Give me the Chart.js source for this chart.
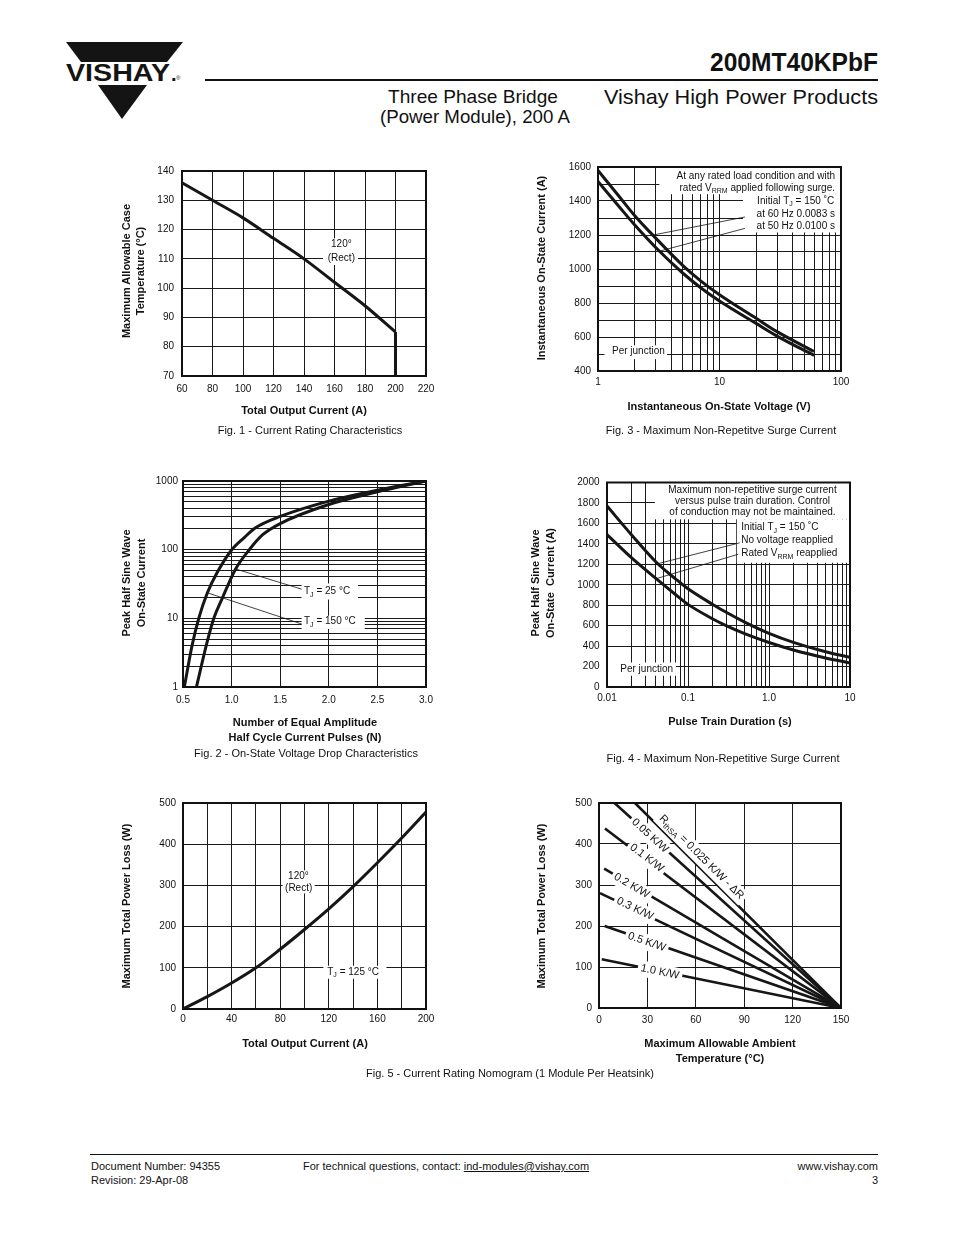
<!DOCTYPE html>
<html><head><meta charset="utf-8">
<script src="https://cdn.jsdelivr.net/npm/chart.js@4.4.0/dist/chart.umd.min.js"></script>
<style>
html,body{margin:0;padding:0;background:#fff;}
body{width:954px;height:1235px;position:relative;overflow:hidden;font-family:"Liberation Sans",Arial,Helvetica,sans-serif;color:#111;}
.t{position:absolute;white-space:nowrap;transform:translate(-50%,-50%);line-height:1;}
.v{position:absolute;white-space:nowrap;transform:translate(-50%,-50%) rotate(-90deg);line-height:1;}
.b{font-weight:bold;font-size:11px;}
.c{font-size:11px;}
.f{position:absolute;font-size:11px;line-height:13px;white-space:nowrap;}
canvas{position:absolute;}
</style></head><body>
<svg style="position:absolute;left:0;top:0" width="954" height="140">
 <polygon points="66,42 183,42 167,62 81,62" fill="#141414"/>
 <polygon points="98,85 147,85 122,119" fill="#141414"/>
 <text x="66" y="81" font-family="Liberation Sans Narrow, Liberation Sans, Arial" font-weight="bold" font-size="23" textLength="104" lengthAdjust="spacingAndGlyphs" fill="#141414">VISHAY</text>
 <text x="171" y="81" font-family="Liberation Sans, Arial" font-weight="bold" font-size="20" fill="#141414">.</text>
 <text x="176" y="80" font-family="Liberation Sans, Arial" font-size="6" fill="#141414">®</text>
 <line x1="205" y1="80" x2="878" y2="80" stroke="#111" stroke-width="2"/>
 <text x="878" y="71" text-anchor="end" font-family="Liberation Sans, Arial" font-weight="bold" font-size="26" textLength="168" lengthAdjust="spacingAndGlyphs" fill="#111">200MT40KPbF</text>
 <text x="878" y="104" text-anchor="end" font-family="Liberation Sans, Arial" font-size="21" textLength="274" lengthAdjust="spacingAndGlyphs" fill="#111">Vishay High Power Products</text>
 <text x="473" y="103" text-anchor="middle" font-family="Liberation Sans, Arial" font-size="19" textLength="170" lengthAdjust="spacingAndGlyphs" fill="#111">Three Phase Bridge</text>
 <text x="475" y="123" text-anchor="middle" font-family="Liberation Sans, Arial" font-size="19" textLength="190" lengthAdjust="spacingAndGlyphs" fill="#111">(Power Module), 200 A</text>
</svg>

<canvas id="c1"></canvas>
<canvas id="c3"></canvas>
<canvas id="c2"></canvas>
<canvas id="c4"></canvas>
<canvas id="c5"></canvas>
<canvas id="c6"></canvas>

<!-- Fig 1 texts -->
<div class="v b" style="left:126px;top:271px">Maximum Allowable Case</div>
<div class="v b" style="left:140px;top:271px">Temperature (°C)</div>
<div class="t b" style="left:304px;top:410px">Total Output Current (A)</div>
<div class="t c" style="left:310px;top:430px">Fig. 1 - Current Rating Characteristics</div>
<!-- Fig 3 texts -->
<div class="v b" style="left:541px;top:268px">Instantaneous On-State Current (A)</div>
<div class="t b" style="left:719px;top:406px">Instantaneous On-State Voltage (V)</div>
<div class="t c" style="left:721px;top:430px">Fig. 3 - Maximum Non-Repetitve Surge Current</div>
<!-- Fig 2 texts -->
<div class="v b" style="left:126px;top:583px">Peak Half Sine Wave</div>
<div class="v b" style="left:141px;top:583px">On-State Current</div>
<div class="t b" style="left:305px;top:722px">Number of Equal Amplitude</div>
<div class="t b" style="left:305px;top:737px">Half Cycle Current Pulses (N)</div>
<div class="t c" style="left:306px;top:753px">Fig. 2 - On-State Voltage Drop Characteristics</div>
<!-- Fig 4 texts -->
<div class="v b" style="left:535px;top:583px">Peak Half Sine Wave</div>
<div class="v b" style="left:550px;top:583px">On-State&nbsp; Current (A)</div>
<div class="t b" style="left:730px;top:721px">Pulse Train Duration (s)</div>
<div class="t c" style="left:723px;top:758px">Fig. 4 - Maximum Non-Repetitive Surge Current</div>
<!-- Fig 5 texts -->
<div class="v b" style="left:126px;top:906px">Maximum Total Power Loss (W)</div>
<div class="t b" style="left:305px;top:1043px">Total Output Current (A)</div>
<div class="v b" style="left:541px;top:906px">Maximum Total Power Loss (W)</div>
<div class="t b" style="left:720px;top:1043px">Maximum Allowable Ambient</div>
<div class="t b" style="left:720px;top:1058px">Temperature (°C)</div>
<div class="t c" style="left:510px;top:1073px">Fig. 5 - Current Rating Nomogram (1 Module Per Heatsink)</div>

<!-- footer -->
<div style="position:absolute;left:90px;top:1154px;width:788px;height:0;border-top:1.5px solid #111"></div>
<div class="f" style="left:91px;top:1160px">Document Number: 94355</div>
<div class="f" style="left:91px;top:1174px">Revision: 29-Apr-08</div>
<div class="f" style="left:303px;top:1160px">For technical questions, contact: <u>ind-modules@vishay.com</u></div>
<div class="f" style="right:76px;top:1160px;text-align:right">www.vishay.com</div>
<div class="f" style="right:76px;top:1174px;text-align:right">3</div>

<script>
// ---------------- DATA ----------------
// Fig. 1 - Current Rating Characteristics
const fig1Current = [60, 80, 100, 120, 140, 160, 180, 200];
const fig1CaseTemp = [136, 130, 124, 117, 110, 102, 94, 85];
const fig1DropCurrent = [200, 200];
const fig1DropTemp = [85, 70];
const fig1XTicks = [60, 220, 20];   // min, max, step
const fig1YTicks = [70, 140, 10];

// Fig. 3 - Maximum Non-Repetitive Surge Current (vs voltage axis)
const fig3Voltage = [1, 1.5, 2, 3, 5, 7, 10, 20, 30, 60];
const fig3Upper = [1580, 1425, 1315, 1180, 1020, 930, 848, 710, 630, 515];
const fig3Lower = [1515, 1365, 1260, 1125, 975, 890, 812, 680, 604, 492];
const fig3XLabels = [1, 10, 100];
const fig3YTicks = [400, 1600, 100];
const fig3YLabelStep = 200;

// Fig. 2 - On-State Voltage Drop Characteristics
const fig2Pulses150 = [0.514, 0.593, 0.662, 0.748, 0.85, 1.0, 1.13, 1.25, 1.5, 2.0, 2.5, 3.0];
const fig2Current150 = [1, 4, 10, 23, 46, 99, 150, 210, 305, 510, 735, 1000];
const fig2Pulses25 = [0.638, 0.748, 0.817, 0.9, 1.04, 1.18, 1.32, 1.5, 2.0, 2.5, 3.0];
const fig2Current25 = [1, 4.5, 10, 19, 52, 99, 165, 240, 455, 695, 1000];
const fig2XTicks = [0.5, 3.0, 0.5];
const fig2YLabels = [1, 10, 100, 1000];

// Fig. 4 - Maximum Non-Repetitive Surge Current (vs pulse train duration)
const fig4Duration = [0.01, 0.02, 0.0411, 0.07, 0.1, 0.2, 0.3, 0.5, 1, 2, 5, 10];
const fig4NoVoltage = [1770, 1490, 1215, 1058, 960, 810, 728, 635, 525, 437, 345, 290];
const fig4RatedV = [1490, 1265, 1055, 905, 808, 668, 598, 522, 435, 362, 284, 235];
const fig4XLabels = [0.01, 0.1, 1, 10];
const fig4XLabelText = ['0.01', '0.1', '1.0', '10'];
const fig4YTicks = [0, 2000, 200];

// Fig. 5 (left) - Power loss
const fig5Current = [0, 20, 40, 60, 80, 100, 120, 140, 160, 180, 200];
const fig5Loss = [0, 30, 63, 100, 145, 193, 243, 297, 355, 415, 478];
const fig5XTicks = [0, 200, 20];
const fig5XLabelStep = 40;
const fig5YTicks = [0, 500, 100];

// Fig. 5 (right) - Nomogram
const nomoNames = ['0.025', '0.05', '0.1', '0.2', '0.3', '0.5', '1.0'];
const nomoStartTemp = [22.3, 9.6, 3.7, 3.2, 0.6, 3.5, 1.7];
const nomoStartLoss = [500, 500, 438, 340, 280, 200, 119];
const nomoEndTemp = 150;
const nomoEndLoss = 0;
const nomoLabelTemp = [63.5, 31.6, 29.6, 20.3, 22.3, 29.6, 37.8];
const nomoLabelLoss = [368, 420, 366, 298, 242, 161, 88];
const nomoXTicks = [0, 150, 30];
const nomoYTicks = [0, 500, 100];

// ---------------- HELPERS ----------------
Chart.defaults.font.family = '"Liberation Sans", Arial, Helvetica, sans-serif';
Chart.defaults.font.size = 10;
Chart.defaults.color = '#111';
const FONT = '"Liberation Sans", Arial, Helvetica, sans-serif';
const INK = '#161616';

function logGrid(lo, hi) {
  const out = [];
  const e0 = Math.round(Math.log10(lo)), e1 = Math.round(Math.log10(hi));
  for (let e = e0; e < e1; e++) for (let m = 1; m < 10; m++) out.push(Number((m * Math.pow(10, e)).toPrecision(6)));
  out.push(hi);
  return out;
}
const pts = (xs, ys) => xs.map((x, i) => ({x: x, y: ys[i]}));
const near = (a, b) => Math.abs(a - b) <= Math.abs(b) * 1e-6;

function drawRich(ctx, parts, x, y, align, angle, bg, size) {
  const fMain = size + 'px ' + FONT, fSub = Math.round(size * 0.72) + 'px ' + FONT;
  let w = 0;
  const widths = parts.map(p => { ctx.font = p[1] ? fSub : fMain; const m = ctx.measureText(p[0]).width; w += m; return m; });
  ctx.save();
  ctx.translate(x, y);
  if (angle) ctx.rotate(angle);
  let sx = align === 'right' ? -w : (align === 'center' ? -w / 2 : 0);
  if (bg) { ctx.fillStyle = '#fff'; ctx.fillRect(sx - 3, -size * 0.7, w + 6, size * 1.45); }
  ctx.fillStyle = '#111'; ctx.textBaseline = 'middle'; ctx.textAlign = 'left';
  parts.forEach((p, i) => { ctx.font = p[1] ? fSub : fMain; ctx.fillText(p[0], sx, p[1] ? size * 0.32 : 0); sx += widths[i]; });
  ctx.restore();
}

const notesPlugin = {
  id: 'notes',
  afterDatasetsDraw(chart) {
    const n = chart.options.plugins.notes;
    if (!n) return;
    const xs = chart.scales.x, ys = chart.scales.y, ctx = chart.ctx;
    const X = v => xs.getPixelForValue(v), Y = v => ys.getPixelForValue(v);
    ctx.save();
    ctx.fillStyle = '#fff';
    (n.boxes || []).forEach(b => {
      const x0 = X(b[0]), x1 = X(b[1]), y0 = Y(b[2]), y1 = Y(b[3]);
      ctx.fillRect(Math.min(x0, x1), Math.min(y0, y1), Math.abs(x1 - x0), Math.abs(y1 - y0));
    });
    ctx.strokeStyle = '#111'; ctx.lineWidth = 0.8;
    (n.leaders || []).forEach(l => {
      ctx.beginPath(); ctx.moveTo(X(l[0]), Y(l[1])); ctx.lineTo(X(l[2]), Y(l[3])); ctx.stroke();
    });
    (n.texts || []).forEach(t => {
      let ang = 0;
      if (t.along) ang = Math.atan2(Y(t.along[3]) - Y(t.along[1]), X(t.along[2]) - X(t.along[0]));
      drawRich(ctx, t.parts, X(t.x), Y(t.y), t.align || 'left', ang, t.bg, t.size || 10);
    });
    ctx.restore();
  },
  afterDraw(chart) {
    const a = chart.chartArea, ctx = chart.ctx;
    ctx.save(); ctx.strokeStyle = '#111'; ctx.lineWidth = 2;
    ctx.strokeRect(a.left, a.top, a.right - a.left, a.bottom - a.top);
    ctx.restore();
  }
};

function lineDS(data, opts) {
  return Object.assign({data: data, showLine: true, borderColor: INK, borderWidth: 3, pointRadius: 0,
    fill: false, cubicInterpolationMode: 'monotone'}, opts || {});
}

function makeChart(id, rect, datasets, xs, ys, notes) {
  const padL = 70, padR = 22, padT = 10, padB = 30;
  const cv = document.getElementById(id);
  const w = rect[2] - rect[0] + padL + padR, h = rect[3] - rect[1] + padT + padB;
  cv.width = w; cv.height = h;
  cv.style.width = w + 'px'; cv.style.height = h + 'px';
  cv.style.left = (rect[0] - padL) + 'px'; cv.style.top = (rect[1] - padT) + 'px';
  const grid = {color: '#1a1a1a', lineWidth: 1, drawTicks: false};
  const border = {display: true, color: '#111', width: 2};
  function scale(s, isX) {
    const o = {type: s.type || 'linear', min: s.min, max: s.max, grid: grid, border: border,
      ticks: {autoSkip: false, maxRotation: 0, minRotation: 0, color: '#111', font: {size: 10}, padding: s.pad,
        callback: s.cb},
      afterFit: isX ? (sc => { sc.height = padB; }) : (sc => { sc.width = padL; })};
    if (s.step) o.ticks.stepSize = s.step;
    if (s.grid) o.afterBuildTicks = sc => { sc.ticks = s.grid.map(v => ({value: v})); };
    return o;
  }
  return new Chart(cv, {
    type: 'scatter',
    data: {datasets: datasets},
    options: {
      responsive: false, animation: false, devicePixelRatio: 1,
      layout: {padding: {top: padT, right: padR, left: 0, bottom: 0}},
      plugins: {legend: {display: false}, tooltip: {enabled: false}, notes: notes},
      scales: {x: scale(xs, true), y: scale(ys, false)}
    },
    plugins: [notesPlugin]
  });
}
const S = (parts) => typeof parts === 'string' ? [[parts]] : parts;

// ---------------- FIG 1 ----------------
makeChart('c1', [182, 167, 426, 376],
  [lineDS(pts(fig1Current, fig1CaseTemp)), lineDS(pts(fig1DropCurrent, fig1DropTemp), {cubicInterpolationMode: 'default', tension: 0})],
  {min: fig1XTicks[0], max: fig1XTicks[1], step: fig1XTicks[2], pad: 7, cb: v => v},
  {min: fig1YTicks[0], max: fig1YTicks[1], step: fig1YTicks[2], pad: 8, cb: v => v},
  {boxes: [[152.5, 175.4, 107.9, 117]],
   texts: [{parts: S('120°'), x: 164.5, y: 115, align: 'center'}, {parts: S('(Rect)'), x: 164.5, y: 110.2, align: 'center'}]});

// ---------------- FIG 3 ----------------
makeChart('c3', [598, 164, 841, 371],
  [lineDS(pts(fig3Voltage, fig3Upper)), lineDS(pts(fig3Voltage, fig3Lower))],
  {type: 'logarithmic', min: 1, max: 100, grid: logGrid(1, 100), pad: 5,
   cb: v => (fig3XLabels.some(l => near(v, l)) ? String(v) : '')},
  {min: fig3YTicks[0], max: fig3YTicks[1], step: fig3YTicks[2], pad: 7, cb: v => (v % fig3YLabelStep === 0 ? v : '')},
  {boxes: [[3.2, 100, 1440, 1600], [15.6, 100, 1215, 1440], [1.13, 3.7, 470, 551]],
   leaders: [[16.2, 1306, 2.85, 1200], [16.2, 1239, 3.13, 1103]],
   texts: [
     {parts: S('At any rated load condition and with'), x: 89.2, y: 1548, align: 'right'},
     {parts: [['rated V'], ['RRM', 1], [' applied following surge.']], x: 89.2, y: 1475, align: 'right'},
     {parts: [['Initial T'], ['J', 1], [' = 150 ˚C']], x: 88, y: 1400, align: 'right'},
     {parts: S('at 60 Hz 0.0083 s'), x: 89.2, y: 1325, align: 'right'},
     {parts: S('at 50 Hz 0.0100 s'), x: 89.2, y: 1252, align: 'right'},
     {parts: S('Per junction'), x: 2.15, y: 516, align: 'center'}]});

// ---------------- FIG 2 ----------------
makeChart('c2', [183, 480, 426, 687],
  [lineDS(pts(fig2Pulses150, fig2Current150)), lineDS(pts(fig2Pulses25, fig2Current25))],
  {min: fig2XTicks[0], max: fig2XTicks[1], step: fig2XTicks[2], pad: 7.5, cb: v => Number(v).toFixed(1)},
  {type: 'logarithmic', min: 1, max: 1000, grid: logGrid(1, 1000), pad: 5,
   cb: v => (fig2YLabels.some(l => near(v, l)) ? String(v) : '')},
  {boxes: [[1.72, 2.30, 18.8, 32.2], [1.72, 2.37, 7.0, 10.9]],
   leaders: [[1.721, 26.6, 1.052, 51.8], [1.721, 8.27, 0.760, 23.3]],
   texts: [
     {parts: [['T'], ['J', 1], [' = 25 °C']], x: 1.745, y: 24.4, align: 'left'},
     {parts: [['T'], ['J', 1], [' = 150 °C']], x: 1.745, y: 8.96, align: 'left'}]});

// ---------------- FIG 4 ----------------
makeChart('c4', [607, 479, 850, 687],
  [lineDS(pts(fig4Duration, fig4NoVoltage)), lineDS(pts(fig4Duration, fig4RatedV))],
  {type: 'logarithmic', min: 0.01, max: 10, grid: logGrid(0.01, 10), pad: 5.5,
   cb: v => { const i = fig4XLabels.findIndex(l => near(v, l)); return i >= 0 ? fig4XLabelText[i] : ''; }},
  {min: fig4YTicks[0], max: fig4YTicks[1], step: fig4YTicks[2], pad: 7.5, cb: v => v},
  {boxes: [[0.039, 10, 1640, 2000], [0.40, 10, 1215, 1640], [0.0101, 0.071, 110, 240]],
   leaders: [[0.4345, 1410, 0.042, 1205], [0.417, 1298, 0.0407, 1060]],
   texts: [
     {parts: S('Maximum non-repetitive surge current'), x: 0.625, y: 1923, align: 'center'},
     {parts: S('versus pulse train duration. Control'), x: 0.625, y: 1817, align: 'center'},
     {parts: S('of conduction may not be maintained.'), x: 0.625, y: 1708, align: 'center'},
     {parts: [['Initial T'], ['J', 1], [' = 150 ˚C']], x: 0.455, y: 1561, align: 'left'},
     {parts: S('No voltage reapplied'), x: 0.455, y: 1433, align: 'left'},
     {parts: [['Rated V'], ['RRM', 1], [' reapplied']], x: 0.455, y: 1305, align: 'left'},
     {parts: S('Per junction'), x: 0.0309, y: 173, align: 'center'}]});

// ---------------- FIG 5 LEFT ----------------
makeChart('c5', [183, 800, 426, 1009],
  [lineDS(pts(fig5Current, fig5Loss))],
  {min: fig5XTicks[0], max: fig5XTicks[1], step: fig5XTicks[2], pad: 4, cb: v => (v % fig5XLabelStep === 0 ? v : '')},
  {min: fig5YTicks[0], max: fig5YTicks[1], step: fig5YTicks[2], pad: 7, cb: v => v},
  {boxes: [[82, 108.4, 280.6, 336.6], [115.5, 167.4, 73.4, 105]],
   texts: [
     {parts: S('120°'), x: 95, y: 323, align: 'center'},
     {parts: S('(Rect)'), x: 95.2, y: 294, align: 'center'},
     {parts: [['T'], ['J', 1], [' = 125 °C']], x: 140, y: 89, align: 'center'}]});

// ---------------- FIG 5 RIGHT ----------------
const nomoDS = nomoNames.map((n, i) => lineDS(
  [{x: nomoStartTemp[i], y: nomoStartLoss[i]}, {x: nomoEndTemp, y: nomoEndLoss}],
  {cubicInterpolationMode: 'default', tension: 0, borderWidth: 2.6}));
const nomoTexts = nomoNames.map((n, i) => ({
  parts: i === 0 ? [['R'], ['thSA', 1], [' = ' + n + ' K/W - ΔR']] : [[n + ' K/W']],
  x: nomoLabelTemp[i], y: nomoLabelLoss[i], align: 'center', bg: true, size: 11,
  along: [nomoStartTemp[i], nomoStartLoss[i], nomoEndTemp, nomoEndLoss]}));
makeChart('c6', [599, 800, 841, 1008],
  nomoDS,
  {min: nomoXTicks[0], max: nomoXTicks[1], step: nomoXTicks[2], pad: 6, cb: v => v},
  {min: nomoYTicks[0], max: nomoYTicks[1], step: nomoYTicks[2], pad: 7, cb: v => v},
  {texts: nomoTexts});
</script>
</body></html>
